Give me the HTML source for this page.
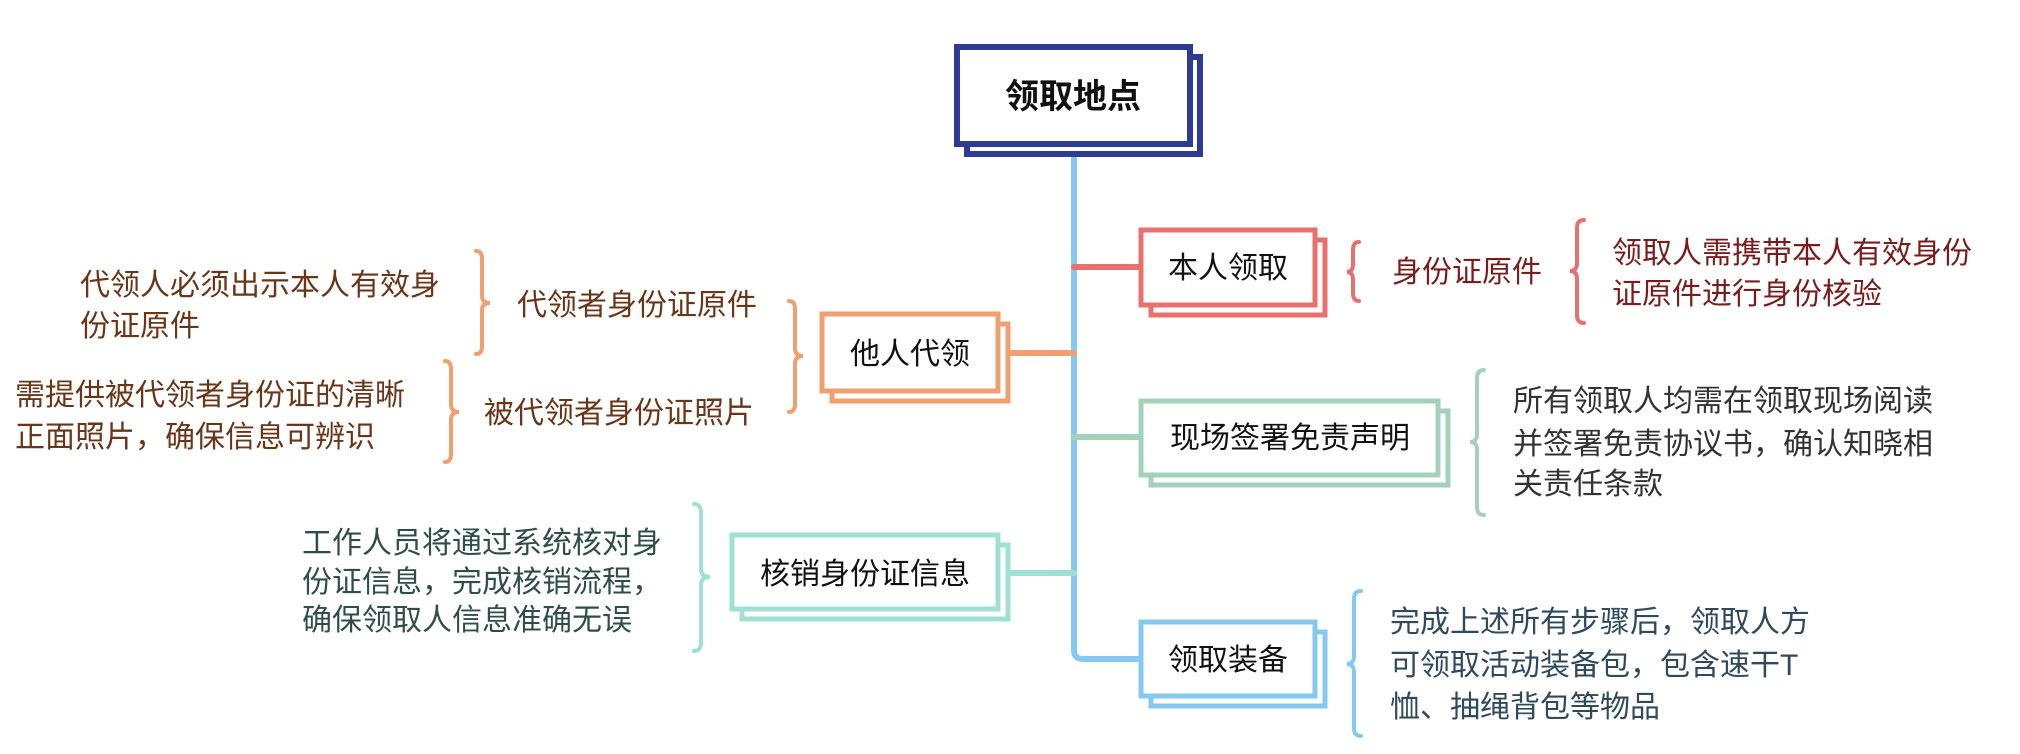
<!DOCTYPE html>
<html><head><meta charset="utf-8"><style>
html,body{margin:0;padding:0;background:#fff;}
svg{display:block;}
text{font-family:"Liberation Sans","Noto Sans CJK SC",sans-serif;font-size:30px;}
</style></head><body>
<svg width="2020" height="754" viewBox="0 0 2020 754" xmlns="http://www.w3.org/2000/svg">
<g fill="none" stroke-linecap="round" stroke-linejoin="round">
<path d="M1074 150 L1074 650 Q1074 659 1083 659 L1140 659" stroke="#86c9f0" stroke-width="6"/>
<line x1="1074" y1="267" x2="1140" y2="267" stroke="#e8706f" stroke-width="6"/>
<line x1="1074" y1="437" x2="1140" y2="437" stroke="#a3d2b9" stroke-width="6"/>
<line x1="1008" y1="353" x2="1074" y2="353" stroke="#f0a070" stroke-width="6"/>
<line x1="1008" y1="573" x2="1074" y2="573" stroke="#a0e0d4" stroke-width="6"/>
</g>
<rect x="967" y="57" width="233" height="97" fill="#fff" stroke="#2e3a94" stroke-width="6"/>
<rect x="957" y="47" width="233" height="97" fill="#fff" stroke="#2e3a94" stroke-width="6"/>
<text x="1073" y="108" text-anchor="middle" style="font-size:34px;font-weight:bold" fill="#111">领取地点</text>
<rect x="1151" y="240" width="174" height="75" fill="#fff" stroke="#e8706f" stroke-width="5"/>
<rect x="1141" y="230" width="174" height="75" fill="#fff" stroke="#e8706f" stroke-width="5"/>
<text x="1228" y="278" text-anchor="middle" fill="#111">本人领取</text>
<rect x="1151" y="411" width="297" height="74" fill="#fff" stroke="#a3d2b9" stroke-width="5"/>
<rect x="1141" y="401" width="297" height="74" fill="#fff" stroke="#a3d2b9" stroke-width="5"/>
<text x="1290" y="448" text-anchor="middle" fill="#111">现场签署免责声明</text>
<rect x="1151" y="632" width="174" height="74" fill="#fff" stroke="#86c9f0" stroke-width="5"/>
<rect x="1141" y="622" width="174" height="74" fill="#fff" stroke="#86c9f0" stroke-width="5"/>
<text x="1228" y="670" text-anchor="middle" fill="#111">领取装备</text>
<rect x="832" y="324" width="176" height="77" fill="#fff" stroke="#f0a070" stroke-width="5"/>
<rect x="822" y="314" width="176" height="77" fill="#fff" stroke="#f0a070" stroke-width="5"/>
<text x="910" y="364" text-anchor="middle" fill="#111">他人代领</text>
<rect x="742" y="545" width="266" height="74" fill="#fff" stroke="#a0e0d4" stroke-width="5"/>
<rect x="732" y="535" width="266" height="74" fill="#fff" stroke="#a0e0d4" stroke-width="5"/>
<text x="865" y="584" text-anchor="middle" fill="#111">核销身份证信息</text>
<g fill="none" stroke-width="4" stroke-linecap="round">
<path d="M476 251 Q482 251 482 259 L482 296 Q482 303 490 303 Q482 303 482 310 L482 346 Q482 354 476 354" stroke="#f0a070"/>
<path d="M445 361 Q451 361 451 369 L451 404 Q451 412 459 412 Q451 412 451 420 L451 454 Q451 462 445 462" stroke="#f0a070"/>
<path d="M789 301 Q795 301 795 309 L795 348 Q795 356 803 356 Q795 356 795 364 L795 404 Q795 412 789 412" stroke="#f0a070"/>
<path d="M694 504 Q701 504 701 513 L701 569 Q701 577 710 577 Q701 577 701 585 L701 642 Q701 651 694 651" stroke="#a0e0d4"/>
<path d="M1359 242 Q1353 242 1353 250 L1353 264 Q1353 272 1347 272 Q1353 272 1353 280 L1353 293 Q1353 301 1359 301" stroke="#e8706f"/>
<path d="M1584 220 Q1577 220 1577 228 L1577 263 Q1577 271 1570 271 Q1577 271 1577 279 L1577 315 Q1577 323 1584 323" stroke="#e8706f"/>
<path d="M1484 370 Q1477 370 1477 378 L1477 434 Q1477 442 1470 442 Q1477 442 1477 450 L1477 507 Q1477 515 1484 515" stroke="#a3d2b9"/>
<path d="M1361 591 Q1354 591 1354 599 L1354 656 Q1354 664 1347 664 Q1354 664 1354 672 L1354 728 Q1354 736 1361 736" stroke="#86c9f0"/>
</g>
<g fill="#6b3518">
<text x="80" y="295">代领人必须出示本人有效身</text>
<text x="80" y="336">份证原件</text>
<text x="15" y="405">需提供被代领者身份证的清晰</text>
<text x="15" y="447">正面照片，确保信息可辨识</text>
<text x="517" y="315">代领者身份证原件</text>
<text x="484" y="423">被代领者身份证照片</text>
</g>
<g fill="#2f4f46">
<text x="302" y="553">工作人员将通过系统核对身</text>
<text x="302" y="592">份证信息，完成核销流程，</text>
<text x="302" y="630">确保领取人信息准确无误</text>
</g>
<g fill="#7a1c1c">
<text x="1392" y="282">身份证原件</text>
<text x="1612" y="263">领取人需携带本人有效身份</text>
<text x="1612" y="304">证原件进行身份核验</text>
</g>
<g fill="#333">
<text x="1513" y="411">所有领取人均需在领取现场阅读</text>
<text x="1513" y="454">并签署免责协议书，确认知晓相</text>
<text x="1513" y="494">关责任条款</text>
</g>
<g fill="#2f4a5e">
<text x="1390" y="632">完成上述所有步骤后，领取人方</text>
<text x="1390" y="675">可领取活动装备包，包含速干T</text>
<text x="1390" y="717">恤、抽绳背包等物品</text>
</g>
</svg>
</body></html>
